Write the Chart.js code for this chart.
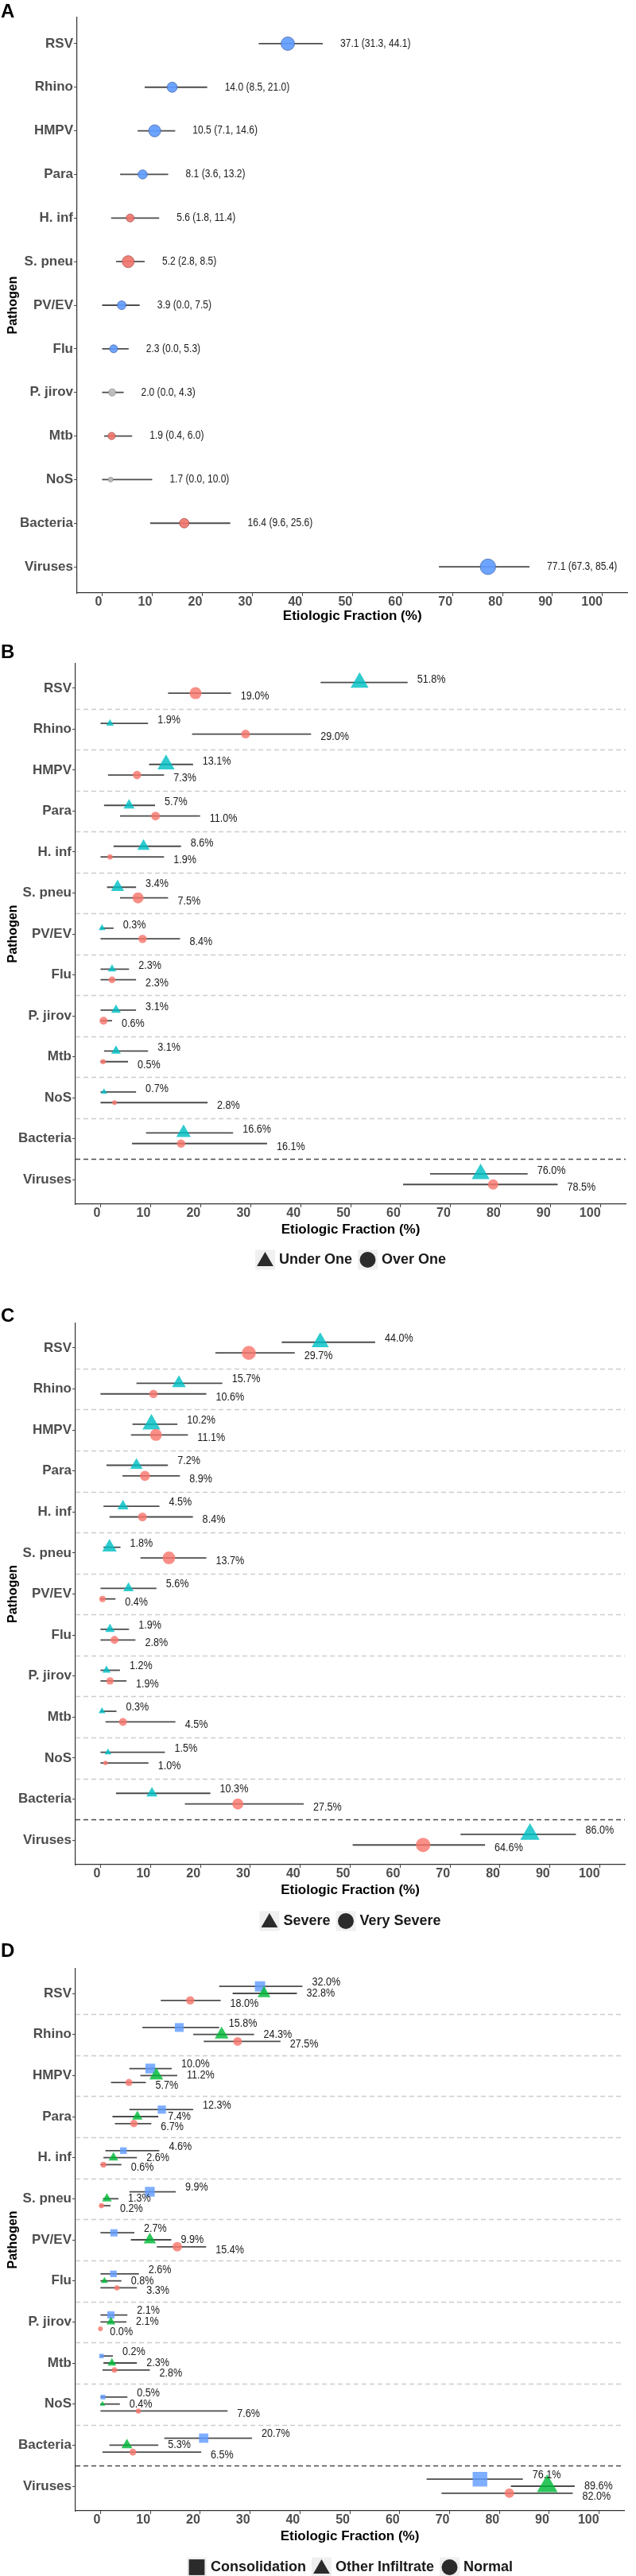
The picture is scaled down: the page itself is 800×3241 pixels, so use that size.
<!DOCTYPE html>
<html>
<head>
<meta charset="utf-8">
<script src="https://cdn.jsdelivr.net/npm/chart.js@4.4.1/dist/chart.umd.min.js"></script>
<style>
  html, body { margin: 0; padding: 0; background: #fff; }
  #page { position: relative; width: 800px; height: 3241px; }
  #page canvas { position: absolute; left: 0; }
</style>
</head>
<body>
<div id="page">
  <canvas id="chartA" width="800" height="800" style="top:0px"></canvas>
  <canvas id="chartB" width="800" height="820" style="top:800px"></canvas>
  <canvas id="chartC" width="800" height="820" style="top:1620px"></canvas>
  <canvas id="chartD" width="800" height="801" style="top:2440px"></canvas>
</div>
<script>
// ---- data ----
const pathogens = ['RSV', 'Rhino', 'HMPV', 'Para', 'H. inf', 'S. pneu', 'PV/EV', 'Flu', 'P. jirov', 'Mtb', 'NoS', 'Bacteria', 'Viruses'];
const xTicks = [0, 10, 20, 30, 40, 50, 60, 70, 80, 90, 100];

// A: overall
const aGroup = ['virus', 'virus', 'virus', 'virus', 'bacteria', 'bacteria', 'virus', 'virus', 'other', 'bacteria', 'other', 'bacteria', 'virus'];
const aEst  = [37.1, 14.0, 10.5, 8.1, 5.6, 5.2, 3.9, 2.3, 2.0, 1.9, 1.7, 16.4, 77.1];
const aLow  = [31.3, 8.5, 7.1, 3.6, 1.8, 2.8, 0.0, 0.0, 0.0, 0.4, 0.0, 9.6, 67.3];
const aHigh = [44.1, 21.0, 14.6, 13.2, 11.4, 8.5, 7.5, 5.3, 4.3, 6.0, 10.0, 25.6, 85.4];

// B: age
const bSeries = ['Under One', 'Over One'];
const bUnderEst  = [51.8, 1.9, 13.1, 5.7, 8.6, 3.4, 0.3, 2.3, 3.1, 3.1, 0.7, 16.6, 76.0];
const bUnderLow  = [44.0, 0.0, 9.7, 0.7, 2.6, 1.3, 0.0, 0.0, 0.0, 0.7, 0.0, 9.1, 65.9];
const bUnderHigh = [61.4, 9.5, 18.5, 10.9, 16.1, 7.1, 2.6, 5.7, 7.1, 9.5, 7.1, 26.5, 85.4];
const bOverEst   = [19.0, 29.0, 7.3, 11.0, 1.9, 7.5, 8.4, 2.3, 0.6, 0.5, 2.8, 16.1, 78.5];
const bOverLow   = [13.5, 18.3, 1.5, 3.9, 0.0, 3.9, 0.0, 0.0, 0.0, 0.0, 0.0, 6.3, 60.5];
const bOverHigh  = [26.1, 42.1, 12.7, 19.9, 12.7, 13.5, 15.9, 7.1, 2.3, 5.5, 21.4, 33.3, 91.4];

// C: severity
const cSeries = ['Severe', 'Very Severe'];
const cSevEst   = [44.0, 15.7, 10.2, 7.2, 4.5, 1.8, 5.6, 1.9, 1.2, 0.3, 1.5, 10.3, 86.0];
const cSevLow   = [36.3, 7.2, 6.4, 1.2, 0.6, 0.6, 0.0, 0.0, 0.0, 0.0, 0.0, 3.1, 72.1];
const cSevHigh  = [55.0, 24.4, 15.4, 13.5, 11.8, 4.0, 11.2, 5.7, 3.9, 3.2, 12.9, 22.0, 95.2];
const cVeryEst  = [29.7, 10.6, 11.1, 8.9, 8.4, 13.7, 0.4, 2.8, 1.9, 4.5, 1.0, 27.5, 64.6];
const cVeryLow  = [23.0, 0.0, 6.1, 4.4, 1.8, 8.0, 0.0, 0.0, 0.0, 1.0, 0.0, 16.9, 50.5];
const cVeryHigh = [38.9, 21.2, 17.5, 15.9, 18.5, 21.2, 3.0, 7.0, 5.2, 15.0, 9.6, 40.7, 77.0];

// D: chest x-ray
const dSeries = ['Consolidation', 'Other Infiltrate', 'Normal'];
const dConsEst   = [32.0, 15.8, 10.0, 12.3, 4.6, 9.9, 2.7, 2.6, 2.1, 0.2, 0.5, 20.7, 76.1];
const dConsLow   = [23.8, 8.4, 5.8, 5.8, 1.0, 5.8, 0.0, 0.0, 0.0, 0.0, 0.0, 12.8, 65.4];
const dConsHigh  = [40.5, 23.8, 14.3, 18.6, 11.8, 15.1, 6.8, 7.7, 5.4, 2.5, 5.4, 30.4, 84.7];
const dOtherEst  = [32.8, 24.3, 11.2, 7.4, 2.6, 1.3, 9.9, 0.8, 2.1, 2.3, 0.4, 5.3, 89.6];
const dOtherLow  = [26.5, 18.6, 8.0, 2.4, 0.6, 0.5, 6.1, 0.0, 0.0, 0.6, 0.0, 1.8, 82.3];
const dOtherHigh = [39.4, 30.8, 15.4, 11.6, 7.3, 3.6, 14.2, 4.2, 5.2, 7.3, 3.9, 11.6, 95.1];
const dNormEst   = [18.0, 27.5, 5.7, 6.7, 0.6, 0.2, 15.4, 3.3, 0.0, 2.8, 7.6, 6.5, 82.0];
const dNormLow   = [12.1, 20.7, 2.1, 2.9, 0.0, 0.0, 11.3, 0.0, 0.0, 0.4, 0.0, 0.4, 68.4];
const dNormHigh  = [24.1, 36.1, 9.1, 10.2, 4.2, 2.0, 21.2, 7.3, 0.0, 9.9, 25.5, 20.2, 94.7];

// marker radii (px)
const aSize      = [8.5, 6.4, 7.6, 5.8, 5, 7.5, 5.5, 5, 4.5, 4.6, 3, 6, 9.8];
const bUnderSize = [13, 5.5, 12.5, 8, 9, 9.5, 5, 6, 7, 7, 4.5, 10.5, 13];
const bOverSize  = [7.5, 5.5, 5.3, 5.5, 3.3, 7, 5.3, 4.3, 5, 3.3, 3, 5.3, 6.5];
const cSevSize   = [12.5, 10, 13, 9, 8, 10.5, 7.5, 7, 6, 5, 5, 8, 14];
const cVerySize  = [8.8, 5.3, 7.5, 6.3, 5.5, 8, 4, 5, 4.7, 5, 2.8, 7, 9];
const dConsSize  = [9.2, 7.8, 8.7, 7.3, 5.9, 8.7, 6.4, 5.9, 6.4, 4, 4.2, 8.3, 13];
const dOtherSize = [9.3, 10, 10, 7.5, 7, 7, 9, 5, 6.5, 6.3, 4, 8, 15];
const dNormSize  = [5.3, 5.5, 4.5, 4.7, 3.7, 3.3, 6, 3.3, 3, 3.5, 3.3, 4.3, 6];

// ---- styles ----
const FONT = "'Liberation Sans', Arial, sans-serif";
Chart.defaults.font.family = FONT;

const RED = 'rgba(248,118,109,0.82)';
const TEAL = 'rgba(0,191,196,0.82)';
const GREEN = 'rgba(0,186,56,0.82)';
const BLUE = 'rgba(97,156,255,0.82)';
const groupFill = { virus: 'rgba(97,156,255,0.92)', bacteria: 'rgba(240,118,109,0.92)', other: 'rgba(190,190,190,0.95)' };
const groupLine = { virus: '#4a6aa8', bacteria: '#a8524c', other: '#8a8a8a' };

function series(name, est, low, high, sizes, offset, style, fill, labelDy, order) {
  return {
    label: name,
    data: est.map((v, i) => ({ x: v, y: i + offset })),
    ciLow: low,
    ciHigh: high,
    pointStyle: style,
    pointRadius: sizes,
    pointHoverRadius: sizes,
    backgroundColor: fill,
    borderWidth: 0,
    labelDy: labelDy,
    order: order
  };
}

const ciPlugin = {
  id: 'ci',
  beforeDatasetsDraw(chart, args, opts) {
    const { ctx, chartArea } = chart;
    const x = chart.scales.x, y = chart.scales.y;
    ctx.save();
    if (opts.separators) {
      for (let i = 0; i < pathogens.length - 1; i++) {
        const py = Math.round(y.getPixelForValue(i + 0.5)) + 0.5;
        ctx.setLineDash([6, 4]);
        ctx.strokeStyle = i === pathogens.length - 2 ? '#4a4a4a' : '#cccccc';
        ctx.lineWidth = 1.3;
        ctx.beginPath();
        ctx.moveTo(chartArea.left, py);
        ctx.lineTo(chartArea.right, py);
        ctx.stroke();
      }
      ctx.setLineDash([]);
    }
    ctx.strokeStyle = 'rgba(45,45,45,0.85)';
    ctx.lineWidth = 1.8;
    chart.data.datasets.forEach(ds => {
      ds.data.forEach((p, i) => {
        const py = y.getPixelForValue(p.y);
        ctx.beginPath();
        ctx.moveTo(x.getPixelForValue(ds.ciLow[i]), py);
        ctx.lineTo(x.getPixelForValue(ds.ciHigh[i]), py);
        ctx.stroke();
      });
    });
    ctx.restore();
  },
  afterDatasetsDraw(chart, args, opts) {
    const { ctx } = chart;
    const x = chart.scales.x, y = chart.scales.y;
    ctx.save();
    ctx.font = opts.labelSize + 'px ' + FONT;
    ctx.fillStyle = '#1a1a1a';
    ctx.textAlign = 'left';
    ctx.textBaseline = 'middle';
    chart.data.datasets.forEach(ds => {
      ds.data.forEach((p, i) => {
        const txt = opts.format(p.x, ds.ciLow[i], ds.ciHigh[i]);
        const tx = x.getPixelForValue(ds.ciHigh[i]) + opts.labelGap;
        const ty = y.getPixelForValue(p.y) + ds.labelDy;
        // the source figure uses a condensed face; squeeze horizontally
        ctx.save();
        ctx.translate(tx, ty);
        ctx.scale(opts.squeeze, 1);
        ctx.fillText(txt, 0, 0);
        ctx.restore();
      });
    });
    ctx.restore();
  },
  afterDraw(chart, args, opts) {
    const { ctx, chartArea } = chart;
    ctx.save();
    ctx.fillStyle = '#000';
    ctx.font = 'bold 24px ' + FONT;
    ctx.textAlign = 'left';
    ctx.textBaseline = 'middle';
    ctx.fillText(opts.letter, 1, opts.letterY);

    if (opts.legend) {
      ctx.font = 'bold 18px ' + FONT;
      const box = 25, gapIn = 5, gapOut = 7;
      const widths = opts.legend.map(it => ctx.measureText(it.label).width);
      let total = 0;
      widths.forEach((w, i) => { total += box + gapIn + w + (i < widths.length - 1 ? gapOut : 0); });
      let cx = (chartArea.left + chartArea.right) / 2 - total / 2;
      const ly = opts.legendY;
      opts.legend.forEach((it, i) => {
        ctx.fillStyle = '#f0f0f0';
        ctx.fillRect(cx, ly - box / 2, box, box);
        ctx.fillStyle = '#2b2b2b';
        Chart.helpers.drawPoint(ctx, { pointStyle: it.style, radius: it.radius, borderWidth: 0, rotation: 0 }, cx + box / 2, ly + (it.style === 'triangle' ? 2 : 0));
        ctx.fillStyle = '#1a1a1a';
        ctx.textAlign = 'left';
        ctx.textBaseline = 'middle';
        ctx.fillText(it.label, cx + box + gapIn, ly);
        cx += box + gapIn + widths[i] + gapOut;
      });
    }
    ctx.restore();
  }
};

function scales(yWidth, xHeight) {
  return {
    x: {
      type: 'linear',
      min: -5,
      max: 105,
      afterBuildTicks: s => { s.ticks = xTicks.map(v => ({ value: v })); },
      afterFit: s => { s.height = xHeight; },
      ticks: { autoSkip: false, align: 'end', padding: 0, maxRotation: 0, color: '#4d4d4d', font: { size: 16, weight: 'bold', lineHeight: 1 } },
      grid: { display: true, drawOnChartArea: false, drawTicks: true, tickLength: 4, color: '#444' },
      border: { display: true, color: '#333', width: 1.2 },
      title: { display: true, text: 'Etiologic Fraction (%)', color: '#000', font: { size: 17, weight: 'bold' }, padding: { top: 0, bottom: 0 } }
    },
    y: {
      type: 'linear',
      reverse: true,
      min: -0.6,
      max: 12.6,
      afterBuildTicks: s => { s.ticks = pathogens.map((p, i) => ({ value: i })); },
      afterFit: s => { s.width = yWidth; },
      ticks: { autoSkip: false, padding: 1, color: '#4d4d4d', font: { size: 17, weight: 'bold' }, callback: v => pathogens[v] },
      grid: { display: true, drawOnChartArea: false, drawTicks: true, tickLength: 4, color: '#444' },
      border: { display: true, color: '#333', width: 1.2 },
      title: { display: true, text: 'Pathogen', color: '#000', font: { size: 16, weight: 'bold' }, padding: { top: 7, bottom: 0 } }
    }
  };
}

function makeChart(id, datasets, cfg) {
  return new Chart(document.getElementById(id), {
    type: 'scatter',
    data: { datasets: datasets },
    options: {
      responsive: false,
      animation: false,
      devicePixelRatio: 1,
      events: [],
      layout: { padding: { top: cfg.top, bottom: cfg.bottom, left: 0, right: 0 } },
      scales: scales(cfg.yWidth, cfg.xHeight),
      plugins: {
        legend: { display: false },
        tooltip: { enabled: false },
        ci: cfg.ci
      }
    },
    plugins: [ciPlugin]
  });
}

const pct = v => v.toFixed(1) + '%';

// A
const aDataset = series('Overall', aEst, aLow, aHigh, aSize, 0, 'circle', aGroup.map(g => groupFill[g]), 0, 1);
aDataset.borderColor = aGroup.map(g => groupLine[g]);
aDataset.borderWidth = 0.8;
makeChart('chartA', [aDataset], {
  top: 22, bottom: 14, yWidth: 97, xHeight: 40,
  ci: {
    letter: 'A', letterY: 15, separators: false, labelSize: 14, squeeze: 0.86, labelGap: 22,
    format: (v, lo, hi) => v.toFixed(1) + ' (' + lo.toFixed(1) + ', ' + hi.toFixed(1) + ')'
  }
});

// B
makeChart('chartB', [
  series(bSeries[0], bUnderEst, bUnderLow, bUnderHigh, bUnderSize, -0.14, 'triangle', TEAL, -4, 2),
  series(bSeries[1], bOverEst, bOverLow, bOverHigh, bOverSize, 0.12, 'circle', RED, 4, 1)
], {
  top: 35, bottom: 62, yWidth: 95, xHeight: 43,
  ci: {
    letter: 'B', letterY: 21, separators: true, labelSize: 14, squeeze: 0.9, labelGap: 12, format: pct,
    legendY: 785,
    legend: [{ label: bSeries[0], style: 'triangle', radius: 12 }, { label: bSeries[1], style: 'circle', radius: 10 }]
  }
});

// C
makeChart('chartC', [
  series(cSeries[0], cSevEst, cSevLow, cSevHigh, cSevSize, -0.14, 'triangle', TEAL, -5, 2),
  series(cSeries[1], cVeryEst, cVeryLow, cVeryHigh, cVerySize, 0.12, 'circle', RED, 4, 1)
], {
  top: 45, bottom: 51, yWidth: 95, xHeight: 43,
  ci: {
    letter: 'C', letterY: 36, separators: true, labelSize: 14, squeeze: 0.9, labelGap: 12, format: pct,
    legendY: 797,
    legend: [{ label: cSeries[0], style: 'triangle', radius: 12 }, { label: cSeries[1], style: 'circle', radius: 10 }]
  }
});

// D
makeChart('chartD', [
  series(dSeries[0], dConsEst, dConsLow, dConsHigh, dConsSize, -0.17, 'rect', BLUE, -5, 3),
  series(dSeries[1], dOtherEst, dOtherLow, dOtherHigh, dOtherSize, 0, 'triangle', GREEN, 0, 2),
  series(dSeries[2], dNormEst, dNormLow, dNormHigh, dNormSize, 0.17, 'circle', RED, 4, 1)
], {
  top: 37, bottom: 39, yWidth: 95, xHeight: 43,
  ci: {
    letter: 'D', letterY: 15, separators: true, labelSize: 14, squeeze: 0.9, labelGap: 12, format: pct,
    legendY: 790,
    legend: [{ label: dSeries[0], style: 'rect', radius: 14 }, { label: dSeries[1], style: 'triangle', radius: 12 }, { label: dSeries[2], style: 'circle', radius: 10 }]
  }
});
</script>
</body>
</html>
